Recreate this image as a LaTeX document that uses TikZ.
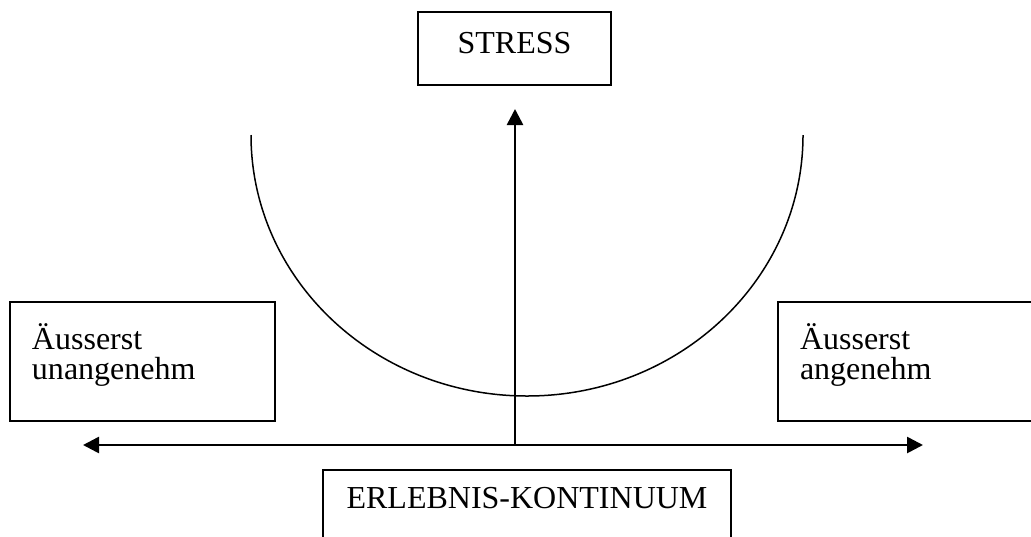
\documentclass[tikz,border=0pt]{standalone}
\usepackage{fontspec}
\setmainfont{Liberation Serif}
\usetikzlibrary{arrows.meta}

\begin{document}
\begin{tikzpicture}[
    x=0.5pt, y=-0.5pt,
    >={Triangle[length=8pt, width=8pt]},
    box/.style={
        draw=black,
        line width=1pt,
        rectangle,
        inner sep=0pt,
        font=\fontsize{16}{15}\selectfont
    },
    title/.style={box, minimum width=96.5pt, minimum height=36.5pt,
        text height=10.5pt, text depth=6pt},
    pole/.style={box, minimum width=132.5pt, minimum height=59.5pt,
        inner xsep=11pt, text width=110.5pt, align=left,
        text height=12pt, text depth=24.5pt},
    axis/.style={line width=1.3pt},
    curve/.style={line width=0.75pt}
]

% Canvas
\useasboundingbox (0, 0) rectangle (1031, 536);
\clip (0, 0) rectangle (1031, 536);

% Stress on top
\node[title] (stress) at (514.5, 48.5) {STRESS};

% Poles of the continuum
\node[pole] (unangenehm) at (142.5, 361.5) {Äusserst\\unangenehm};
\node[pole] (angenehm) at (910.5, 361.5) {Äusserst\\angenehm};

% Continuum label below
\node[title, minimum width=204pt, text depth=9pt] (kontinuum) at (527, 506.5) {ERLEBNIS-KONTINUUM};

% Axes
\coordinate (links) at (83, 445);
\coordinate (rechts) at (923, 445);
\coordinate (mitte) at (515, 445);
\coordinate (oben) at (515, 109);
\draw[axis, <->] (links) -- (rechts);
\draw[axis, ->] (mitte) -- (oben);

% U-curve
\draw[curve] (251, 135) arc[start angle=180, end angle=0, x radius=276, y radius=261];

\end{tikzpicture}
\end{document}
